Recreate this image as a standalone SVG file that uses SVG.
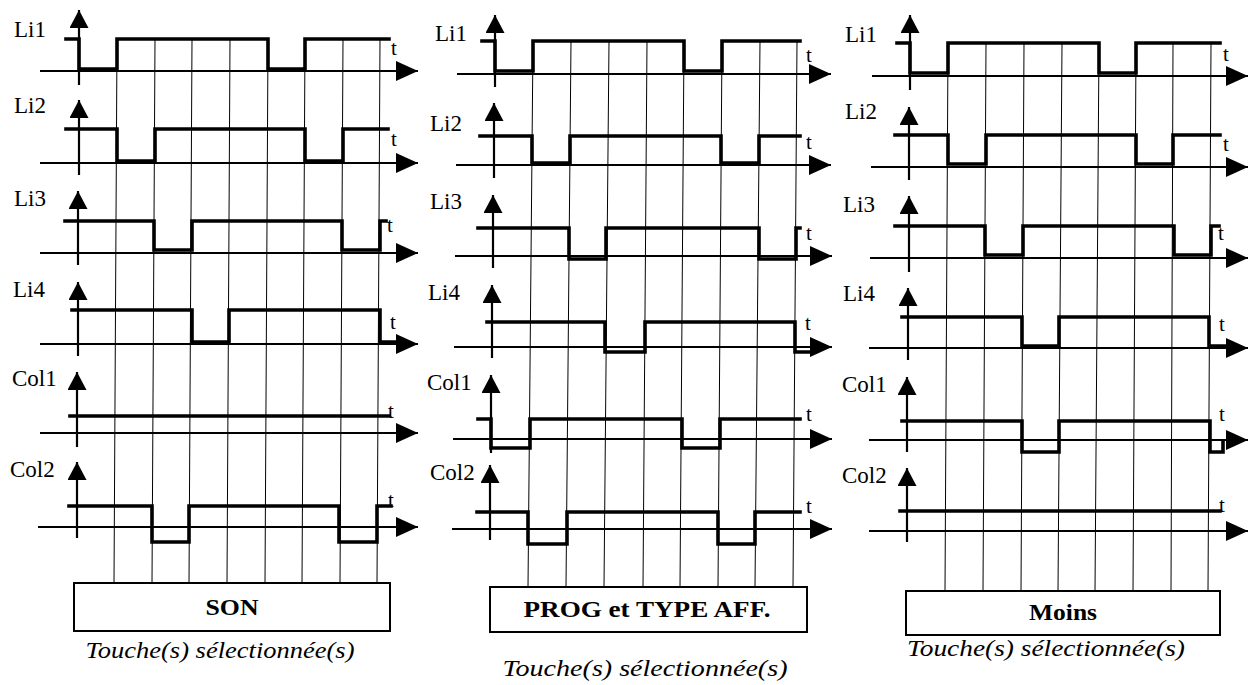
<svg xmlns="http://www.w3.org/2000/svg" width="1249" height="685" viewBox="0 0 1249 685">
<style>
  .grid{stroke:#000;stroke-width:1;fill:none}
  .yax{stroke:#000;stroke-width:2.2;fill:none;marker-end:url(#ay)}
  .hax{stroke:#000;stroke-width:2.2;fill:none;marker-end:url(#ax)}
  .sig{stroke:#000;stroke-width:3.6;fill:none;stroke-linejoin:miter;stroke-linecap:square}
  .lbl{font-size:23px;fill:#000}
  .t{font-size:21px;fill:#000}
  .btn{fill:#fff;stroke:#000;stroke-width:2}
  .bt{font-size:24px;font-weight:bold;fill:#000;text-anchor:middle}
  .cap{font-size:23px;font-style:italic;fill:#000;text-anchor:middle}
</style>
<defs>
  <marker id="ay" markerUnits="userSpaceOnUse" markerWidth="19" markerHeight="20" refX="18" refY="9.5" orient="auto" viewBox="0 0 19 20">
    <path d="M0,0 L18,9.5 L0,19 Z" fill="#000"/>
  </marker>
  <marker id="ax" markerUnits="userSpaceOnUse" markerWidth="22" markerHeight="21" refX="22" refY="10" orient="auto" viewBox="0 0 22 21">
    <path d="M0,0 L22,10 L0,20 Z" fill="#000"/>
  </marker>
</defs>
<rect width="1249" height="685" fill="#fff"/>
<g font-family="'Liberation Serif', 'Times New Roman', 'DejaVu Serif', serif">

<!-- ================= PANEL 1 : SON ================= -->
<g id="panel-son">
  <g id="son-grid">
    <line class="grid" x1="117" y1="39" x2="114" y2="583"/>
    <line class="grid" x1="155" y1="39" x2="152" y2="583"/>
    <line class="grid" x1="192" y1="39" x2="189" y2="583"/>
    <line class="grid" x1="230" y1="39" x2="227" y2="583"/>
    <line class="grid" x1="268" y1="39" x2="265" y2="583"/>
    <line class="grid" x1="305" y1="39" x2="302" y2="583"/>
    <line class="grid" x1="343" y1="39" x2="340" y2="583"/>
    <line class="grid" x1="380" y1="39" x2="377" y2="583"/>
  </g>
  <g id="son-li1">
    <text class="lbl" x="14" y="37">Li1</text>
    <line class="yax" x1="79" y1="85" x2="79" y2="10"/>
    <line class="hax" x1="40" y1="71" x2="418" y2="71"/>
    <path class="sig" d="M66,39 H79 V69 H117 V39 H268 V69 H305 V39 H389"/>
    <text class="t" x="391" y="55">t</text>
  </g>
  <g id="son-li2">
    <text class="lbl" x="14" y="113">Li2</text>
    <line class="yax" x1="79" y1="175" x2="79" y2="100"/>
    <line class="hax" x1="40" y1="163" x2="418" y2="163"/>
    <path class="sig" d="M66,129 H117 V161 H155 V129 H305 V161 H343 V129 H388"/>
    <text class="t" x="391" y="146">t</text>
  </g>
  <g id="son-li3">
    <text class="lbl" x="14" y="206">Li3</text>
    <line class="yax" x1="78" y1="265" x2="78" y2="191"/>
    <line class="hax" x1="40" y1="253" x2="418" y2="253"/>
    <path class="sig" d="M65,221 H154 V250 H192 V221 H342 V250 H380 V221 H386"/>
    <text class="t" x="387" y="232">t</text>
  </g>
  <g id="son-li4">
    <text class="lbl" x="13" y="297">Li4</text>
    <line class="yax" x1="78" y1="356" x2="78" y2="282"/>
    <line class="hax" x1="40" y1="344" x2="418" y2="344"/>
    <path class="sig" d="M72,310 H192 V342 H229 V310 H380 V342 H395"/>
    <text class="t" x="390" y="329">t</text>
  </g>
  <g id="son-col1">
    <text class="lbl" x="12" y="386">Col1</text>
    <line class="yax" x1="77" y1="447" x2="77" y2="372"/>
    <line class="hax" x1="40" y1="433" x2="418" y2="433"/>
    <path class="sig" d="M70,416 H389"/>
    <text class="t" x="388" y="418">t</text>
  </g>
  <g id="son-col2">
    <text class="lbl" x="10" y="477">Col2</text>
    <line class="yax" x1="77" y1="538" x2="77" y2="462"/>
    <line class="hax" x1="38" y1="527" x2="418" y2="527"/>
    <path class="sig" d="M69,506 H152 V542 H189 V506 H339 V542 H377 V506 H391"/>
    <text class="t" x="388" y="507">t</text>
  </g>
  <g id="son-key">
    <rect class="btn" x="74" y="583" width="316" height="48"/>
    <text class="bt" x="232" y="615" textLength="53" lengthAdjust="spacingAndGlyphs">SON</text>
  </g>
  <text class="cap" x="220" y="658" textLength="269" lengthAdjust="spacingAndGlyphs">Touche(s) sélectionnée(s)</text>
</g>

<!-- ================= PANEL 2 : PROG et TYPE AFF. ================= -->
<g id="panel-prog">
  <g id="prog-grid">
    <line class="grid" x1="533" y1="41" x2="528" y2="587"/>
    <line class="grid" x1="571" y1="41" x2="566" y2="587"/>
    <line class="grid" x1="609" y1="41" x2="604" y2="587"/>
    <line class="grid" x1="647" y1="41" x2="643" y2="587"/>
    <line class="grid" x1="684" y1="41" x2="680" y2="587"/>
    <line class="grid" x1="722" y1="41" x2="718" y2="587"/>
    <line class="grid" x1="760" y1="41" x2="755" y2="587"/>
    <line class="grid" x1="797" y1="41" x2="793" y2="587"/>
  </g>
  <g id="prog-li1">
    <text class="lbl" x="435" y="41">Li1</text>
    <line class="yax" x1="495" y1="87" x2="495" y2="15"/>
    <line class="hax" x1="457" y1="74" x2="831" y2="74"/>
    <path class="sig" d="M482,41 H495 V71 H533 V41 H684 V71 H722 V41 H800"/>
    <text class="t" x="806" y="62">t</text>
  </g>
  <g id="prog-li2">
    <text class="lbl" x="430" y="131">Li2</text>
    <line class="yax" x1="494" y1="178" x2="494" y2="103"/>
    <line class="hax" x1="456" y1="165" x2="831" y2="165"/>
    <path class="sig" d="M480,136 H532 V163 H570 V136 H721 V163 H759 V136 H800"/>
    <text class="t" x="806" y="149">t</text>
  </g>
  <g id="prog-li3">
    <text class="lbl" x="430" y="209">Li3</text>
    <line class="yax" x1="493" y1="268" x2="493" y2="195"/>
    <line class="hax" x1="455" y1="256" x2="832" y2="256"/>
    <path class="sig" d="M478,228 H569 V259 H606 V228 H759 V259 H796 V228 H800"/>
    <text class="t" x="806" y="240">t</text>
  </g>
  <g id="prog-li4">
    <text class="lbl" x="428" y="300">Li4</text>
    <line class="yax" x1="492" y1="358" x2="492" y2="285"/>
    <line class="hax" x1="454" y1="347" x2="832" y2="347"/>
    <path class="sig" d="M487,322 H605 V352 H645 V322 H795 V352 H810"/>
    <text class="t" x="805" y="330">t</text>
  </g>
  <g id="prog-col1">
    <text class="lbl" x="427" y="390">Col1</text>
    <line class="yax" x1="491" y1="453" x2="491" y2="375"/>
    <line class="hax" x1="453" y1="439" x2="832" y2="439"/>
    <path class="sig" d="M478,419 H491 V448 H530 V419 H682 V448 H720 V419 H800"/>
    <text class="t" x="806" y="421">t</text>
  </g>
  <g id="prog-col2">
    <text class="lbl" x="430" y="480">Col2</text>
    <line class="yax" x1="490" y1="540" x2="490" y2="465"/>
    <line class="hax" x1="452" y1="529" x2="832" y2="529"/>
    <path class="sig" d="M477,512 H528 V544 H567 V512 H718 V544 H755 V512 H800"/>
    <text class="t" x="806" y="513">t</text>
  </g>
  <g id="prog-key">
    <rect class="btn" x="490" y="587" width="317" height="45"/>
    <text class="bt" x="647" y="617" textLength="247" lengthAdjust="spacingAndGlyphs">PROG et TYPE AFF.</text>
  </g>
  <text class="cap" x="645" y="676" textLength="285" lengthAdjust="spacingAndGlyphs">Touche(s) sélectionnée(s)</text>
</g>

<!-- ================= PANEL 3 : Moins ================= -->
<g id="panel-moins">
  <g id="moins-grid">
    <line class="grid" x1="948" y1="43" x2="945" y2="591"/>
    <line class="grid" x1="986" y1="43" x2="983" y2="591"/>
    <line class="grid" x1="1024" y1="43" x2="1021" y2="591"/>
    <line class="grid" x1="1062" y1="43" x2="1058" y2="591"/>
    <line class="grid" x1="1099" y1="43" x2="1095" y2="591"/>
    <line class="grid" x1="1136" y1="43" x2="1133" y2="591"/>
    <line class="grid" x1="1173" y1="43" x2="1171" y2="591"/>
    <line class="grid" x1="1211" y1="43" x2="1208" y2="591"/>
  </g>
  <g id="moins-li1">
    <text class="lbl" x="845" y="42">Li1</text>
    <line class="yax" x1="910" y1="90" x2="910" y2="15"/>
    <line class="hax" x1="872" y1="76" x2="1248" y2="76"/>
    <path class="sig" d="M897,43 H910 V73 H948 V43 H1099 V73 H1136 V43 H1220"/>
    <text class="t" x="1223" y="61">t</text>
  </g>
  <g id="moins-li2">
    <text class="lbl" x="845" y="119">Li2</text>
    <line class="yax" x1="909" y1="180" x2="909" y2="107"/>
    <line class="hax" x1="871" y1="167" x2="1248" y2="167"/>
    <path class="sig" d="M895,135 H948 V164 H986 V135 H1136 V164 H1173 V135 H1220"/>
    <text class="t" x="1223" y="151">t</text>
  </g>
  <g id="moins-li3">
    <text class="lbl" x="843" y="212">Li3</text>
    <line class="yax" x1="909" y1="272" x2="909" y2="196"/>
    <line class="hax" x1="870" y1="258" x2="1248" y2="258"/>
    <path class="sig" d="M895,226 H985 V255 H1023 V226 H1174 V255 H1211 V226 H1219"/>
    <text class="t" x="1218" y="240">t</text>
  </g>
  <g id="moins-li4">
    <text class="lbl" x="843" y="301">Li4</text>
    <line class="yax" x1="908" y1="360" x2="908" y2="288"/>
    <line class="hax" x1="869" y1="348" x2="1248" y2="348"/>
    <path class="sig" d="M902,317 H1022 V346 H1059 V317 H1209 V346 H1226"/>
    <text class="t" x="1219" y="331">t</text>
  </g>
  <g id="moins-col1">
    <text class="lbl" x="842" y="392">Col1</text>
    <line class="yax" x1="907" y1="452" x2="907" y2="377"/>
    <line class="hax" x1="869" y1="440" x2="1248" y2="440"/>
    <path class="sig" d="M902,421 H1022 V452 H1059 V421 H1210 V452 H1223 V442"/>
    <text class="t" x="1219" y="421">t</text>
  </g>
  <g id="moins-col2">
    <text class="lbl" x="842" y="483">Col2</text>
    <line class="yax" x1="907" y1="542" x2="907" y2="468"/>
    <line class="hax" x1="869" y1="531" x2="1248" y2="531"/>
    <path class="sig" d="M900,511 H1220"/>
    <text class="t" x="1219" y="512">t</text>
  </g>
  <g id="moins-key">
    <rect class="btn" x="906" y="591" width="314" height="44"/>
    <text class="bt" x="1063" y="620" textLength="68" lengthAdjust="spacingAndGlyphs">Moins</text>
  </g>
  <text class="cap" x="1046" y="656" textLength="278" lengthAdjust="spacingAndGlyphs">Touche(s) sélectionnée(s)</text>
</g>
</g>
</svg>
